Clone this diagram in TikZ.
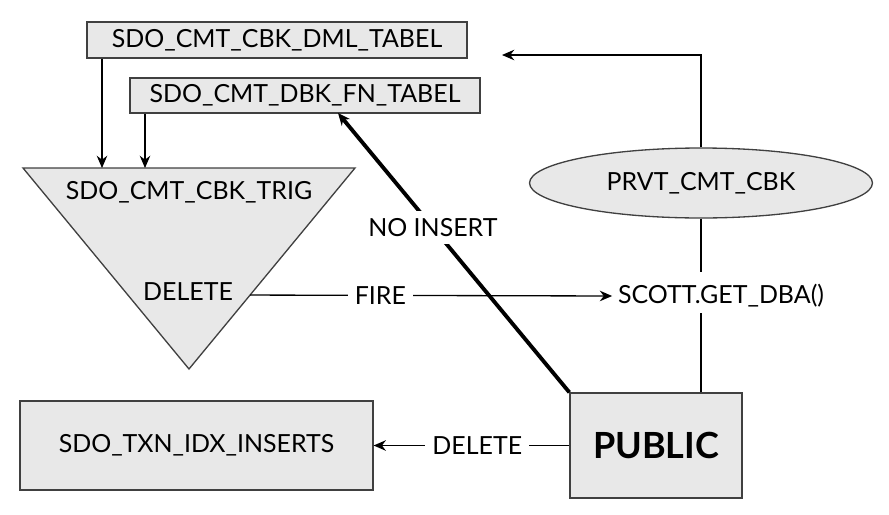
\documentclass[tikz,border=0pt]{standalone}
\usepackage{fontspec}
\setmainfont{Lato}
\usetikzlibrary{shapes.geometric,arrows.meta,calc}

\begin{document}
\begin{tikzpicture}[x=0.02cm,y=-0.02cm,line width=0.75pt,
    txt/.style={font=\fontsize{14.2}{16}\selectfont},
    box/.style={txt,draw=black!75,fill=black!9,inner sep=0pt},
    lbl/.style={txt,fill=white,inner sep=4pt},
    >={Stealth[length=7pt,width=6pt]}]
    \useasboundingbox (0,0) rectangle (889,514);

    \node[box,minimum width=7.6cm,minimum height=0.72cm] (dml) at (277,40) {SDO\_CMT\_CBK\_DML\_TABEL};
    \node[box,minimum width=7cm,minimum height=0.7cm] (fn) at (305,95.5) {SDO\_CMT\_DBK\_FN\_TABEL};

    % trigger
    \coordinate (tl) at (23,168);
    \coordinate (tr) at (355,168);
    \coordinate (tb) at (189,369);
    \draw[draw=black!75,fill=black!9] (tl) -- (tr) -- (tb) -- cycle;
    \node[txt] (trig) at (189,192) {SDO\_CMT\_CBK\_TRIG};
    \node[txt] (del) at (188,292) {DELETE};
    \coordinate (firestart) at ($(tr)!0.632!(tb)$);

    \coordinate (dmlin) at (102,168);
    \coordinate (fnin) at (145,168);
    \draw[->] (dmlin |- dml.south) -- (dmlin);
    \draw[->] (fnin |- fn.south) -- (fnin);

    \node[box,ellipse,minimum width=6.86cm,minimum height=1.4cm] (prvt) at (701,183) {PRVT\_CMT\_CBK};
    \node[txt,inner sep=3pt] (scott) at (721,296) {SCOTT.GET\_DBA()};
    \node[box,minimum width=3.44cm,minimum height=2.1cm,font=\fontsize{20.5}{24}\selectfont\bfseries] (public) at (656,445.5) {PUBLIC};
    \node[box,minimum width=7.06cm,minimum height=1.78cm] (idx) at (196.5,445.5) {SDO\_TXN\_IDX\_INSERTS};

    \coordinate (dmlback) at (502,55);
    \coordinate (fnback) at (338,113);

    \draw[->] (prvt.north) |- (dmlback);
    \draw (prvt.south) -- ([yshift=4pt]prvt.south |- scott.north);
    \draw (public.north -| prvt.south) -- (prvt.south |- scott.south);
    \draw[->] (firestart) -- (scott.west) node[lbl,pos=0.36] {FIRE};
    \draw[line width=2.2pt,->] (public.north west) -- (fnback) node[lbl,pos=0.59] {NO INSERT};
    \draw[->] (public.west) -- (idx.east) node[lbl,pos=0.47] {DELETE};
\end{tikzpicture}
\end{document}
